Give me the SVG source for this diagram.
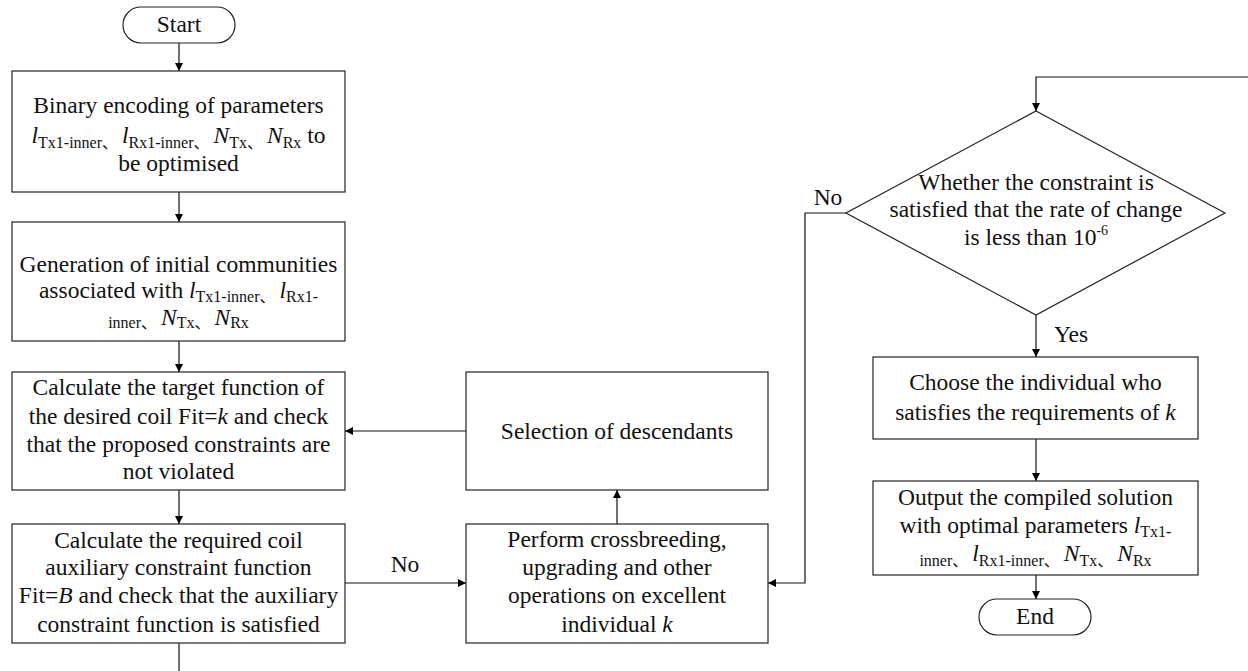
<svg xmlns="http://www.w3.org/2000/svg" width="1248" height="671" viewBox="0 0 1248 671">
<defs>
<marker id="arr" viewBox="0 0 10 10" refX="10" refY="5" markerWidth="8" markerHeight="8" markerUnits="userSpaceOnUse" orient="auto">
<path d="M0,0 L10,5 L0,10 z" fill="#000"/>
</marker>
<style>
.box{fill:#fff;stroke:#222;stroke-width:1.2}
.t{font-family:"Liberation Serif","Noto Sans CJK SC",serif;font-size:23.5px;fill:#111;text-anchor:middle}
.lbl{font-family:"Liberation Serif",serif;font-size:23.5px;fill:#111;text-anchor:middle}
.i{font-style:italic}
.s{font-size:16px}
.c{stroke:#111;stroke-width:1.2;fill:none}
</style>
</defs>
<rect width="1248" height="671" fill="#fff"/>

<g id="connectors">
<path class="c" d="M179,43 V71" marker-end="url(#arr)"/>
<path class="c" d="M179,192 V222" marker-end="url(#arr)"/>
<path class="c" d="M179,341 V372" marker-end="url(#arr)"/>
<path class="c" d="M179,490 V524" marker-end="url(#arr)"/>
<path class="c" d="M179,643 V671"/>
<path class="c" d="M466,431 H345" marker-end="url(#arr)"/>
<path class="c" d="M345,583 H466" marker-end="url(#arr)"/>
<path class="c" d="M617,524 V490" marker-end="url(#arr)"/>
<path class="c" d="M846,213 H805 V583 H768" marker-end="url(#arr)"/>
<path class="c" d="M1248,77 H1036 V111" marker-end="url(#arr)"/>
<path class="c" d="M1036,315 V357" marker-end="url(#arr)"/>
<path class="c" d="M1036,439 V481" marker-end="url(#arr)"/>
<path class="c" d="M1036,575 V599" marker-end="url(#arr)"/>
<text class="lbl" x="405" y="572">No</text>
<text class="lbl" x="828" y="205">No</text>
<text class="lbl" x="1071" y="342">Yes</text>
</g>

<g id="start">
<rect class="box" x="123" y="7" width="112" height="36" rx="18"/>
<text class="t" x="179" y="32">Start</text>
</g>

<g id="encode">
<rect class="box" x="12" y="71" width="333" height="121"/>
<text class="t" x="178.5" y="113">Binary encoding of parameters</text>
<text class="t" x="178.5" y="143"><tspan class="i">l</tspan><tspan class="s" dy="5">Tx1-inner、 </tspan><tspan class="i" dy="-5">l</tspan><tspan class="s" dy="5">Rx1-inner、 </tspan><tspan class="i" dy="-5">N</tspan><tspan class="s" dy="5">Tx、 </tspan><tspan class="i" dy="-5">N</tspan><tspan class="s" dy="5">Rx</tspan><tspan dy="-5"> to</tspan></text>
<text class="t" x="178.5" y="171">be optimised</text>
</g>

<g id="generate">
<rect class="box" x="12" y="222" width="333" height="119"/>
<text class="t" x="178.5" y="272">Generation of initial communities</text>
<text class="t" x="178.5" y="298">associated with  <tspan class="i">l</tspan><tspan class="s" dy="4">Tx1-inner、 </tspan><tspan class="i" dy="-4">l</tspan><tspan class="s" dy="4">Rx1-</tspan></text>
<text class="t" x="178.5" y="325"><tspan class="s" dy="3">inner、 </tspan><tspan class="i" dy="-3">N</tspan><tspan class="s" dy="3">Tx、 </tspan><tspan class="i" dy="-3">N</tspan><tspan class="s" dy="3">Rx</tspan></text>
</g>

<g id="target">
<rect class="box" x="12" y="372" width="333" height="118"/>
<text class="t" x="178.5" y="395">Calculate the target function of</text>
<text class="t" x="178.5" y="424">the desired coil Fit=<tspan class="i">k</tspan> and check</text>
<text class="t" x="178.5" y="452">that the proposed constraints are</text>
<text class="t" x="178.5" y="479">not violated</text>
</g>

<g id="auxiliary">
<rect class="box" x="12" y="524" width="333" height="119"/>
<text class="t" x="178.5" y="548">Calculate the required coil</text>
<text class="t" x="178.5" y="575">auxiliary constraint function</text>
<text class="t" x="178.5" y="603">Fit=<tspan class="i">B</tspan> and check that the auxiliary</text>
<text class="t" x="178.5" y="632">constraint function is satisfied</text>
</g>

<g id="selection">
<rect class="box" x="466" y="372" width="302" height="118"/>
<text class="t" x="617" y="439">Selection of descendants</text>
</g>

<g id="crossbreed">
<rect class="box" x="466" y="524" width="302" height="119"/>
<text class="t" x="617" y="547">Perform crossbreeding,</text>
<text class="t" x="617" y="575">upgrading and other</text>
<text class="t" x="617" y="603">operations on excellent</text>
<text class="t" x="617" y="632">individual <tspan class="i">k</tspan></text>
</g>

<g id="decision">
<polygon class="box" points="1036,111 1225,213 1036,315 846,213"/>
<text class="t" x="1036" y="190">Whether the constraint is</text>
<text class="t" x="1036" y="217">satisfied that the rate of change</text>
<text class="t" x="1036" y="245">is less than 10<tspan font-size="14" dy="-10">-6</tspan></text>
</g>

<g id="choose">
<rect class="box" x="873" y="357" width="325" height="82"/>
<text class="t" x="1035.5" y="390">Choose the individual who</text>
<text class="t" x="1035.5" y="420">satisfies the requirements of  <tspan class="i">k</tspan></text>
</g>

<g id="output">
<rect class="box" x="873" y="481" width="325" height="94"/>
<text class="t" x="1035.5" y="505">Output the compiled solution</text>
<text class="t" x="1035.5" y="533">with optimal parameters <tspan class="i">l</tspan><tspan class="s" dy="4">Tx1-</tspan></text>
<text class="t" x="1035.5" y="561"><tspan class="s" dy="5">inner、 </tspan><tspan class="i" dy="-5">l</tspan><tspan class="s" dy="5">Rx1-inner、 </tspan><tspan class="i" dy="-5">N</tspan><tspan class="s" dy="5">Tx、 </tspan><tspan class="i" dy="-5">N</tspan><tspan class="s" dy="5">Rx</tspan></text>
</g>

<g id="end">
<rect class="box" x="979" y="599" width="112" height="36" rx="18"/>
<text class="t" x="1035" y="624">End</text>
</g>
</svg>
